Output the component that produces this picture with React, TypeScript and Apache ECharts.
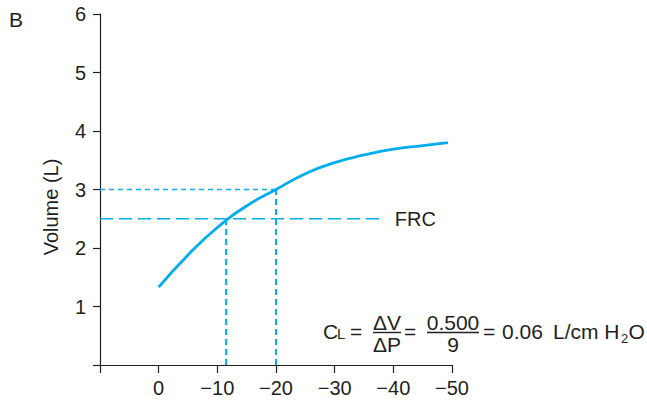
import React, { useEffect, useRef } from "react";
import * as echarts from "echarts";

// ---- data ----
const pressure = [0, -5, -10, -15, -20, -25, -30, -35, -40, -45, -49.3];
const volume = [1.33, 1.88, 2.35, 2.72, 3.0, 3.27, 3.46, 3.59, 3.69, 3.75, 3.8];
const frcVolume = 2.5;
const frcPressure = -11.5;
const frcLineEnd = -38.2;
const inspVolume = 3.0;
const inspPressure = -20;
const axisStartPressure = 10;
const xMin = -50;
const xMax = 10;
const yMin = 0;
const yMax = 6;

const CYAN = "#00aeef";
const INK = "#231f20";
const FONT = "Liberation Sans, Arial, Helvetica, sans-serif";

function txt(text: string, x: number, y: number, size: number, align: string = "left") {
  return {
    type: "text",
    x,
    y,
    silent: true,
    style: {
      text,
      fill: INK,
      fontSize: size,
      fontFamily: FONT,
      textAlign: align,
      textVerticalAlign: "middle",
      align,
      verticalAlign: "middle",
    },
  };
}

function bar(x1: number, x2: number, y: number) {
  return {
    type: "line",
    silent: true,
    shape: { x1, y1: y, x2, y2: y },
    style: { stroke: INK, lineWidth: 1.4 },
  };
}

export default function App() {
  const ref = useRef<HTMLDivElement>(null);

  useEffect(() => {
    if (!ref.current) return;
    const chart = echarts.init(ref.current, null, { renderer: "svg" });
    const curve = pressure.map((p, i) => [p, volume[i]]);

    chart.setOption({
      animation: false,
      grid: { left: 100, right: 195, top: 14, bottom: 37 },
      xAxis: {
        type: "value",
        min: xMin,
        max: xMax,
        interval: 10,
        inverse: true,
        splitLine: { show: false },
        axisLine: { show: true, onZero: false, lineStyle: { color: INK, width: 1.2 } },
        axisTick: { show: true, length: 8, lineStyle: { color: INK, width: 1.2 } },
        axisLabel: {
          margin: 13,
          fontSize: 20,
          fontFamily: FONT,
          color: INK,
          formatter: (v: number) =>
            v === axisStartPressure ? "" : v < 0 ? "\u2212" + Math.abs(v) : String(v),
        },
      },
      yAxis: {
        type: "value",
        min: yMin,
        max: yMax,
        interval: 1,
        splitLine: { show: false },
        axisLine: { show: true, onZero: false, lineStyle: { color: INK, width: 1.2 } },
        axisTick: { show: true, length: 7, lineStyle: { color: INK, width: 1.2 } },
        axisLabel: {
          margin: 14,
          fontSize: 20,
          fontFamily: FONT,
          color: INK,
          formatter: (v: number) => (v === 0 ? "" : String(v)),
        },
      },
      series: [
        {
          type: "line",
          data: [
            { value: [axisStartPressure, frcVolume] },
            {
              value: [frcLineEnd, frcVolume],
              label: {
                show: true,
                position: "right",
                distance: 12,
                formatter: "FRC",
                fontSize: 20,
                fontFamily: FONT,
                color: INK,
              },
            },
          ],
          showSymbol: true,
          symbolSize: 0,
          lineStyle: { color: CYAN, width: 1.4, type: [13, 6] },
          itemStyle: { color: CYAN },
          silent: true,
        },
        {
          type: "line",
          data: [
            [axisStartPressure, inspVolume],
            [inspPressure, inspVolume],
          ],
          showSymbol: false,
          lineStyle: { color: CYAN, width: 1.3, type: [5, 4] },
          silent: true,
        },
        {
          type: "line",
          data: [
            [frcPressure, yMin],
            [frcPressure, frcVolume],
          ],
          showSymbol: false,
          lineStyle: { color: CYAN, width: 2, type: [6, 4] },
          silent: true,
        },
        {
          type: "line",
          data: [
            [inspPressure, yMin],
            [inspPressure, inspVolume],
          ],
          showSymbol: false,
          lineStyle: { color: CYAN, width: 2, type: [6, 4] },
          silent: true,
        },
        {
          type: "line",
          data: curve,
          smooth: true,
          showSymbol: false,
          lineStyle: { color: CYAN, width: 2.8 },
          silent: true,
        },
      ],
      graphic: [
        txt("B", 9, 19, 21),
        {
          type: "text",
          x: 51,
          y: 207,
          rotation: Math.PI / 2,
          silent: true,
          style: {
            text: "Volume (L)",
            fill: INK,
            fontSize: 20,
            fontFamily: FONT,
            textAlign: "center",
            textVerticalAlign: "middle",
            align: "center",
            verticalAlign: "middle",
          },
        },
        txt("C", 323, 331, 21),
        txt("L", 337, 333.5, 15),
        txt("=", 350, 331, 21),
        txt("\u0394V", 387, 322.5, 21, "center"),
        bar(373, 401, 332.5),
        txt("\u0394P", 387, 344.5, 21, "center"),
        txt("=", 404, 331, 21),
        txt("0.500", 453, 322.5, 21, "center"),
        bar(427, 479, 332.5),
        txt("9", 453, 344.5, 21, "center"),
        txt("=", 483, 331, 21),
        txt("0.06", 502, 331, 21),
        txt("L/cm H", 553, 331, 21),
        txt("2", 621, 338, 13),
        txt("O", 628.5, 331, 21),
      ],
    });

    return () => chart.dispose();
  }, []);

  return (
    <div
      ref={ref}
      style={{ position: "fixed", left: 0, top: 0, width: 647, height: 402, background: "#fff" }}
    />
  );
}
